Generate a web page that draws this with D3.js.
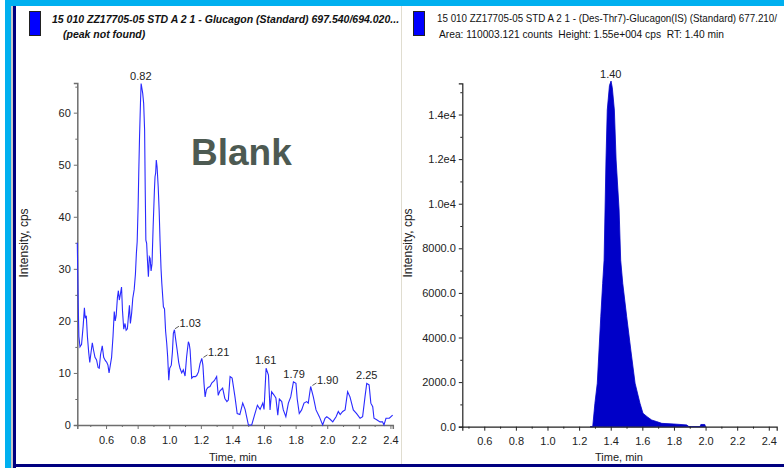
<!DOCTYPE html>
<html lang="en">
<head>
<meta charset="UTF-8">
<script src="https://d3js.org/d3.v7.min.js"></script>
<title>chromatograms</title>
<style>
  body { margin: 0; background: #fff; }
  text { font-family: "Liberation Sans", Arial, sans-serif; }
</style>
</head>
<body>
<script type="text/javascript">

// ---- data ----
var leftTime = [0.418,0.424,0.428,0.435,0.445,0.455,0.463,0.468,0.475,0.482,0.49,0.497,0.503,0.513,0.52,0.53,0.54,0.55,0.557,0.565,0.576,0.585,0.595,0.605,0.612,0.619,0.627,0.635,0.644,0.652,0.658,0.664,0.672,0.678,0.684,0.69,0.698,0.704,0.712,0.72,0.727,0.735,0.742,0.748,0.754,0.762,0.769,0.778,0.786,0.792,0.797,0.803,0.807,0.812,0.818,0.822,0.828,0.832,0.838,0.844,0.848,0.852,0.857,0.862,0.868,0.874,0.879,0.885,0.891,0.898,0.906,0.91,0.914,0.918,0.923,0.93,0.936,0.942,0.948,0.953,0.963,0.97,0.977,0.984,0.99,0.997,1.003,1.013,1.02,1.026,1.033,1.04,1.05,1.06,1.068,1.079,1.089,1.1,1.11,1.121,1.127,1.132,1.142,1.152,1.165,1.174,1.185,1.195,1.206,1.213,1.22,1.227,1.235,1.245,1.258,1.27,1.285,1.30,1.31,1.32,1.338,1.352,1.365,1.374,1.385,1.398,1.416,1.43,1.447,1.465,1.48,1.501,1.522,1.537,1.558,1.575,1.592,1.6,1.613,1.628,1.638,1.648,1.662,1.675,1.687,1.697,1.712,1.722,1.738,1.754,1.769,1.786,1.802,1.81,1.823,1.838,1.853,1.87,1.88,1.895,1.912,1.929,1.95,1.971,1.986,1.997,2.018,2.035,2.056,2.07,2.082,2.098,2.113,2.129,2.144,2.165,2.186,2.208,2.224,2.239,2.25,2.265,2.276,2.288,2.296,2.313,2.334,2.35,2.359,2.372,2.393,2.414];
var leftIntensity = [35,23,17,15,15.5,19,22.5,20.5,21,17,14,12,13.5,15.8,14.5,13,12.5,11,10.9,13.5,15.2,13,12.4,12,11.5,10,11.5,13,17,21.8,20,21,24.5,25.8,24,25,26.5,22,18.4,19.5,18.2,18.5,21,23,19.5,21.5,24.3,26,29,33,35.2,42,48.4,55.4,62,65.6,64.5,63.7,61.8,56.7,45.1,35.5,34.9,31.7,28.5,32.3,32,29.6,31,38.1,45,47.7,48.4,50.9,49.6,45.8,41.3,35.2,30,27.2,22.7,22.3,18,15.7,13.1,8.6,10.9,11.5,14,17.6,18.3,16.6,14.4,12,10.9,10,10.6,9.4,13.1,16,15.5,14.4,9.0,9.3,9.3,9.5,10.2,11.8,12.8,11.5,8,5.4,6.8,7.2,7.4,8.1,8.5,9.3,5.7,6.5,7.1,5.1,4.5,4.8,9.3,9.0,5.4,2.2,2.0,4.2,3.0,0,0,1.6,3.8,3.0,4.2,3.0,10.9,9.6,2.9,6.4,5.8,5.2,1.9,5.0,4.5,2.9,1.6,4.2,5.4,8.3,8.0,5.0,2.2,2.9,4.2,4.5,4.2,7.4,5.4,2.9,1.6,0,1.3,1.6,1.1,0.6,1.6,2.6,2.0,2.6,2.9,6.4,5.4,2.9,2.2,1.3,1.6,5.4,8.0,7.7,4.2,3.5,1.3,1.0,0.6,0.6,0,1.3,1.3,1.9];

var rightTime = [1.27,1.286,1.30,1.315,1.326,1.337,1.349,1.358,1.364,1.370,1.378,1.392,1.402,1.41,1.423,1.434,1.453,1.463,1.476,1.501,1.527,1.554,1.585,1.604,1.63,1.659,1.69,1.723,1.8,1.881,1.895,1.965,1.97,1.995,2.0];
var rightIntensity = [0,0,1050,1950,3440,4930,6430,7470,9720,11960,14200,15300,15500,15200,14200,11960,9720,7470,6430,4930,3440,1950,1050,600,450,300,230,150,120,80,0,0,100,100,0];

var leftPeakTimes  = [0.82, 1.03, 1.21, 1.61, 1.79, 1.90, 2.25];
var leftPeakValues = [65.6, 18.3, 12.8, 10.9, 8.3, 7.4, 8.0];
var leftPeakLabels = ["0.82", "1.03", "1.21", "1.61", "1.79", "1.90", "2.25"];
var leftPeakLeader = [false, true, true, false, false, true, false];

var rightPeakTimes  = [1.40];
var rightPeakValues = [15500];
var rightPeakLabels = ["1.40"];

var timeTicks = [0.6, 0.8, 1.0, 1.2, 1.4, 1.6, 1.8, 2.0, 2.2, 2.4];
var timeMinor = [0.5, 0.7, 0.9, 1.1, 1.3, 1.5, 1.7, 1.9, 2.1, 2.3];
var timeTickLabels = ["0.6", "0.8", "1.0", "1.2", "1.4", "1.6", "1.8", "2.0", "2.2", "2.4"];
var leftYTicks = [0, 10, 20, 30, 40, 50, 60];
var leftYMinor = [5, 15, 25, 35, 45, 55, 65];
var rightYTicks = [0, 2000, 4000, 6000, 8000, 10000, 12000, 14000];
var rightYMinor = [1000, 3000, 5000, 7000, 9000, 11000, 13000, 15000];
var rightYTickLabels = ["0.0", "2000.0", "4000.0", "6000.0", "8000.0", "1.0e4", "1.2e4", "1.4e4"];

var leftTitle  = ["15 010 ZZ17705-05 STD A 2 1 - Glucagon (Standard) 697.540/694.020...", "(peak not found)"];
var rightTitle = ["15 010 ZZ17705-05 STD A 2 1 - (Des-Thr7)-Glucagon(IS) (Standard) 677.210/", "Area: 110003.121 counts  Height: 1.55e+004 cps  RT: 1.40 min"];

var width = 784, height = 468;

var svg = d3.select("body").append("svg").attr("width", width).attr("height", height);

// ---- window frame ----
svg.append("rect").attr("x", 5).attr("y", 0).attr("width", width - 5).attr("height", 6).attr("fill", "#00b0f0");
svg.append("rect").attr("x", 5).attr("y", 0).attr("width", 6).attr("height", height).attr("fill", "#00b0f0");
svg.append("rect").attr("x", 11).attr("y", 6).attr("width", 2).attr("height", height).attr("fill", "#c8c8c8");
svg.append("rect").attr("x", 13).attr("y", 6).attr("width", 3).attr("height", height).attr("fill", "#000080");
svg.append("rect").attr("x", 13).attr("y", 464).attr("width", width).attr("height", 3).attr("fill", "#000080");
svg.append("line").attr("x1", 401.5).attr("x2", 401.5).attr("y1", 6).attr("y2", 464)
  .attr("stroke", "#e0ddd0").attr("stroke-width", 1);

var clipL = svg.append("clipPath").attr("id", "clipL");
clipL.append("rect").attr("x", 16).attr("y", 0).attr("width", 385).attr("height", 464);

// ---- titles ----
var tL = svg.append("g").attr("clip-path", "url(#clipL)");
tL.append("rect").attr("x", 29.5).attr("y", 11.5).attr("width", 11).attr("height", 24)
  .attr("fill", "#0000ff").attr("stroke", "#222");
tL.append("text").attr("x", 52).attr("y", 23).attr("font-size", 10.5).attr("font-weight", "bold")
  .attr("font-style", "italic").attr("fill", "#111").text(leftTitle[0]);
tL.append("text").attr("x", 63).attr("y", 38).attr("font-size", 10.5).attr("font-weight", "bold")
  .attr("font-style", "italic").attr("fill", "#111").text(leftTitle[1]);

svg.append("rect").attr("x", 413.5).attr("y", 11.5).attr("width", 11).attr("height", 24)
  .attr("fill", "#0000ff").attr("stroke", "#222");
svg.append("text").attr("x", 437).attr("y", 22).attr("font-size", 10.5)
  .attr("textLength", 340).attr("lengthAdjust", "spacingAndGlyphs")
  .attr("fill", "#111").text(rightTitle[0]);
svg.append("text").attr("x", 439).attr("y", 38).attr("font-size", 10.5)
  .style("white-space", "pre").attr("textLength", 285).attr("lengthAdjust", "spacingAndGlyphs")
  .attr("fill", "#111").text(rightTitle[1]);

// ---- helper to draw one panel's axes ----
function drawAxes(g, x, y, yTicks, yMinor, yFmt, axisColor, axisWidth) {
  var xa = g.append("g").attr("transform", "translate(0," + y.range()[0] + ")")
    .call(d3.axisBottom(x).tickValues(timeTicks).tickSize(4).tickPadding(7)
      .tickFormat(function(d, i) { return timeTickLabels[i]; }));
  var xm = g.append("g").attr("transform", "translate(0," + y.range()[0] + ")")
    .call(d3.axisBottom(x).tickValues(timeMinor).tickSize(2).tickFormat(""));
  var ya = g.append("g").attr("transform", "translate(" + x.range()[0] + ",0)")
    .call(d3.axisLeft(y).tickValues(yTicks).tickSize(3.5).tickPadding(3).tickFormat(yFmt));
  var ym = g.append("g").attr("transform", "translate(" + x.range()[0] + ",0)")
    .call(d3.axisLeft(y).tickValues(yMinor).tickSize(2).tickFormat(""));
  [xa, xm, ya, ym].forEach(function(a) {
    a.select(".domain").attr("stroke", axisColor).attr("stroke-width", axisWidth);
    a.selectAll(".tick line").attr("stroke", axisColor);
    a.selectAll("text").attr("font-size", 11).attr("fill", "#222")
      .attr("font-family", "'Liberation Sans', Arial, sans-serif");
    a.attr("font-size", null);
  });
  xm.select(".domain").remove();
  ym.select(".domain").remove();
}

// ---- left panel (blank) ----
var xL = d3.scaleLinear().domain([0.418, 2.415]).range([77.3, 392.8]);
var yL = d3.scaleLinear().domain([0, 65.7]).range([425, 83]);
var gL = svg.append("g");

drawAxes(gL, xL, yL, leftYTicks, leftYMinor, function(d) { return d; }, "#6e6e6e", 1.5);

var leftPts = leftTime.map(function(t, i) { return [t, leftIntensity[i]]; });
gL.append("path").datum(leftPts)
  .attr("fill", "none").attr("stroke", "#2a2aff").attr("stroke-width", 1.1)
  .attr("d", d3.line().x(function(d) { return xL(d[0]); }).y(function(d) { return yL(d[1]); }));

leftPeakTimes.forEach(function(t, i) {
  var px = xL(t), py = yL(leftPeakValues[i]);
  if (leftPeakLeader[i]) {
    gL.append("line").attr("x1", px + 1).attr("y1", py - 1).attr("x2", px + 5).attr("y2", py - 3.5)
      .attr("stroke", "#333").attr("stroke-width", 0.8);
    gL.append("text").attr("x", px + 5.5).attr("y", py - 2.5).attr("font-size", 11).attr("fill", "#222")
      .text(leftPeakLabels[i]);
  } else {
    gL.append("text").attr("x", px).attr("y", py - 4).attr("text-anchor", "middle")
      .attr("font-size", 11).attr("fill", "#222").text(leftPeakLabels[i]);
  }
});

gL.append("text").attr("transform", "translate(28,243) rotate(-90)").attr("text-anchor", "middle")
  .attr("font-size", 12).attr("fill", "#222").text("Intensity, cps");
gL.append("text").attr("x", 233).attr("y", 461).attr("text-anchor", "middle")
  .attr("font-size", 11).attr("fill", "#222").text("Time, min");

gL.append("text").attr("x", 191).attr("y", 165).attr("font-size", 37).attr("font-weight", "bold")
  .attr("fill", "#4d5a52").text("Blank");

// ---- right panel (internal standard) ----
var xR = d3.scaleLinear().domain([0.461, 2.45]).range([462.3, 776.7]);
var yR = d3.scaleLinear().domain([0, 15400]).range([426.7, 83.3]);
var gR = svg.append("g");

var rightPts = rightTime.map(function(t, i) { return [t, rightIntensity[i]]; });
gR.append("path").datum(rightPts)
  .attr("fill", "#0000c8").attr("stroke", "#0000c8").attr("stroke-width", 0.8)
  .attr("d", d3.area().x(function(d) { return xR(d[0]); }).y0(yR(0)).y1(function(d) { return yR(d[1]); }));

drawAxes(gR, xR, yR, rightYTicks, rightYMinor, function(d, i) { return rightYTickLabels[i]; }, "#222", 1.2);

rightPeakTimes.forEach(function(t, i) {
  gR.append("text").attr("x", xR(t)).attr("y", yR(rightPeakValues[i]) - 3).attr("text-anchor", "middle")
    .attr("font-size", 11).attr("fill", "#222").text(rightPeakLabels[i]);
});

gR.append("text").attr("transform", "translate(412,243) rotate(-90)").attr("text-anchor", "middle")
  .attr("font-size", 12).attr("fill", "#222").text("Intensity, cps");
gR.append("text").attr("x", 619).attr("y", 461).attr("text-anchor", "middle")
  .attr("font-size", 11).attr("fill", "#222").text("Time, min");

</script>
</body>
</html>
